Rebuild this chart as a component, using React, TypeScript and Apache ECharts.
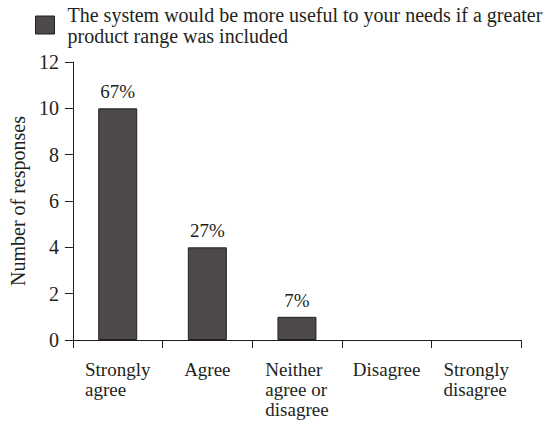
import React, { useEffect, useRef } from "react";
import * as echarts from "echarts";

const categories = [
  "Strongly\nagree",
  "Agree",
  "Neither\nagree or\ndisagree",
  "Disagree",
  "Strongly\ndisagree",
];
const responses = [10, 4, 1, 0, 0];
const percentLabels = ["67%", "27%", "7%", "", ""];
const seriesName =
  "The system would be more useful to your needs if a greater\nproduct range was included";
const yAxisName = "Number of responses";
const yMin = 0;
const yMax = 12;
const yInterval = 2;

const FONT = '"Liberation Serif", "Times New Roman", serif';
const INK = "#231f20";
const BAR = "#4d4948";

export default function App() {
  const ref = useRef<HTMLDivElement>(null);
  useEffect(() => {
    if (!ref.current) return;
    const chart = echarts.init(ref.current, null, { renderer: "svg" });
    chart.setOption({
      animation: false,
      backgroundColor: "#ffffff",
      textStyle: { fontFamily: FONT, color: INK },
      legend: {
        left: 35,
        top: 4,
        padding: 0,
        itemWidth: 19,
        itemHeight: 18,
        icon: "rect",
        data: [seriesName],
        textStyle: {
          fontFamily: FONT,
          fontSize: 20,
          lineHeight: 21,
          color: INK,
          padding: [0, 0, 0, 8],
        },
        itemStyle: { color: BAR, borderColor: INK, borderWidth: 1 },
      },
      grid: { left: 66, right: 36, top: 62, bottom: 83, containLabel: false },
      xAxis: {
        type: "category",
        data: categories,
        boundaryGap: true,
        axisLine: { lineStyle: { color: INK, width: 1 } },
        axisTick: { show: true, length: 8, lineStyle: { color: INK } },
        axisLabel: {
          interval: 0,
          margin: 19,
          fontFamily: FONT,
          fontSize: 19,
          lineHeight: 20,
          color: INK,
          formatter: (v: string) =>
            v
              .split("\n")
              .map((l) => `{a|${l}}`)
              .join("\n"),
          rich: {
            a: {
              align: "left",
              fontFamily: FONT,
              fontSize: 19,
              lineHeight: 20,
              color: INK,
            },
          },
        },
      },
      yAxis: {
        type: "value",
        min: yMin,
        max: yMax,
        interval: yInterval,
        name: yAxisName,
        nameLocation: "middle",
        nameGap: 27,
        nameTextStyle: { fontFamily: FONT, fontSize: 20, color: INK },
        axisLine: { show: true, lineStyle: { color: INK, width: 1 } },
        axisTick: { show: true, length: 8, lineStyle: { color: INK } },
        axisLabel: { margin: 14, fontFamily: FONT, fontSize: 20, color: INK },
        splitLine: { show: false },
      },
      series: [
        {
          name: seriesName,
          type: "bar",
          data: responses.map((v) =>
            v === 0 ? { value: v, itemStyle: { opacity: 0 } } : v
          ),
          barWidth: 39,
          itemStyle: { color: BAR, borderColor: INK, borderWidth: 1 },
          label: {
            show: true,
            position: "top",
            distance: 7,
            fontFamily: FONT,
            fontSize: 19,
            color: INK,
            formatter: (p: any) => percentLabels[p.dataIndex],
          },
        },
      ],
    });
    return () => chart.dispose();
  }, []);
  return (
    <div
      ref={ref}
      style={{
        position: "fixed",
        left: 0,
        top: 0,
        width: 557,
        height: 423,
        background: "#fff",
      }}
    />
  );
}
